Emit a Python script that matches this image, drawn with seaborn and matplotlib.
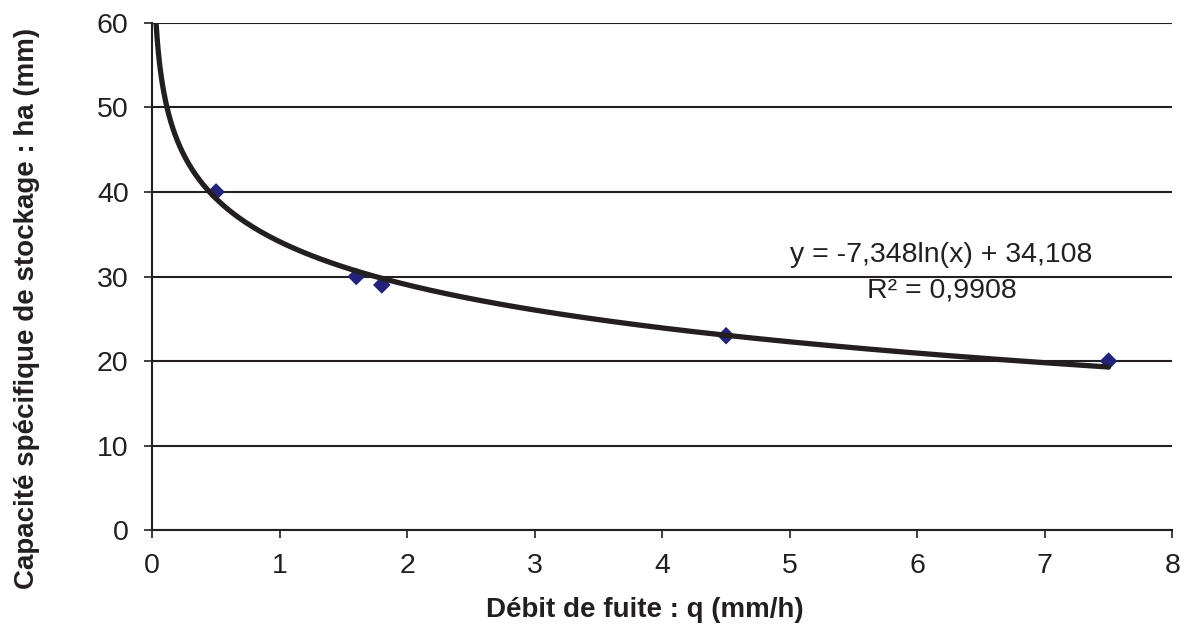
import numpy as np
import pandas as pd
import matplotlib
matplotlib.use("Agg")
import matplotlib.pyplot as plt
import seaborn as sns

# Data
debit_q = [0.5, 1.6, 1.8, 4.5, 7.5]
capacite_ha = [40, 30, 29, 23, 20]
x_ticks = [0, 1, 2, 3, 4, 5, 6, 7, 8]
y_ticks = [0, 10, 20, 30, 40, 50, 60]
equation_text = "y = -7,348ln(x) + 34,108"
r2_text = "R² = 0,9908"
x_label = "Débit de fuite : q (mm/h)"
y_label = "Capacité spécifique de stockage : ha (mm)"

sns.set_theme(style="white")
plt.rcParams["font.family"] = ["Liberation Sans", "DejaVu Sans"]

ink = "#231F20"
fig = plt.figure(figsize=(11.88, 6.31), dpi=100)
ax = fig.add_axes([0.1282, 0.1596, 0.9868 - 0.1282, 0.964 - 0.1596])

df = pd.DataFrame({"q": debit_q, "ha": capacite_ha})

# Logarithmic trendline fitted on the data (like a spreadsheet trendline)
slope, intercept = np.polyfit(np.log(df["q"]), df["ha"], 1)
y_top = y_ticks[-1]
x_start = np.exp((y_top - intercept) / slope)
xs = np.geomspace(x_start, max(debit_q), 400)
trend = pd.DataFrame({"q": xs, "ha": slope * np.log(xs) + intercept})

sns.scatterplot(data=df, x="q", y="ha", marker="D", s=80, color="#23237A",
                edgecolor="none", ax=ax, zorder=3)
sns.lineplot(data=trend, x="q", y="ha", color=ink, linewidth=3.8, sort=False,
             estimator=None, ax=ax, zorder=4)

ax.set_xlim(0, 8)
ax.set_ylim(0, 60)
ax.set_xticks(x_ticks)
ax.set_yticks(y_ticks)
ax.set_xticklabels([str(t) for t in x_ticks])
ax.set_yticklabels([str(t) for t in y_ticks])

ax.yaxis.grid(True, color=ink, linewidth=1.5)
ax.xaxis.grid(False)
ax.set_axisbelow(True)
for side in ["top", "right"]:
    ax.spines[side].set_visible(False)
for side in ["left", "bottom"]:
    ax.spines[side].set_color(ink)
    ax.spines[side].set_linewidth(1.5)

ax.tick_params(axis="both", which="major", direction="out", length=6, width=1.2,
               color=ink, labelsize=20.5, labelcolor=ink)
ax.tick_params(axis="y", pad=11, left=True)
ax.tick_params(axis="x", pad=10, bottom=True)

ax.set_xlabel(x_label, fontsize=20, fontweight="bold", color=ink, va="center")
ax.set_ylabel(y_label, fontsize=20, fontweight="bold", color=ink, va="center")
ax.xaxis.set_label_coords(0.483, -0.157)
ax.yaxis.set_label_coords(-0.123, 0.438)

ax.text(6.19, 32.5, equation_text, ha="center", va="center", fontsize=20.5, color=ink)
ax.text(6.19, 28.4, r2_text, ha="center", va="center", fontsize=20.5, color=ink)

fig.savefig("out.png", dpi=100)
